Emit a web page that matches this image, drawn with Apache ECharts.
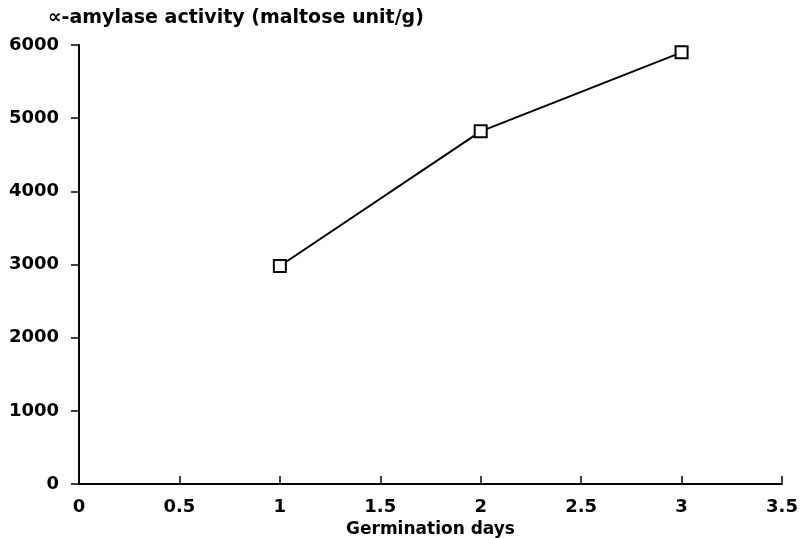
<!DOCTYPE html>
<html>
<head>
<meta charset="utf-8">
<title>amylase</title>
<script src="https://cdn.jsdelivr.net/npm/echarts@6/dist/echarts.min.js"></script>
</head>
<body style="margin:0">
<div id="container" style="width:803px;height:538px"></div>
<script>
var days = [1, 2, 3];
var activity = [2980, 4820, 5900];

var font = 'DejaVu Sans';
var chart = echarts.init(document.getElementById('container'));
var points = days.map(function (d, i) { return [d, activity[i]]; });

chart.setOption({
  backgroundColor: '#fff',
  animation: false,
  title: {
    text: '\u221d-amylase activity (maltose unit/g)',
    left: 43, top: 4,
    textStyle: { fontFamily: font, fontWeight: 'bold', fontSize: 19, color: '#000' }
  },
  grid: { left: 79, right: 21, top: 45, bottom: 54, outerBoundsMode: 'none', containLabel: false },
  xAxis: {
    type: 'value', min: 0, max: 3.5, interval: 0.5,
    name: 'Germination days', nameLocation: 'middle', nameGap: 35,
    nameTextStyle: { fontFamily: font, fontWeight: 'bold', fontSize: 17, color: '#000' },
    axisLine: { lineStyle: { color: '#000', width: 2 } },
    axisTick: { inside: true, length: 8, lineStyle: { color: '#000', width: 1.5 } },
    axisLabel: { margin: 14, fontFamily: font, fontWeight: 'bold', fontSize: 18, color: '#000' },
    splitLine: { show: false }
  },
  yAxis: {
    type: 'value', min: 0, max: 6000, interval: 1000,
    axisLine: { show: true, lineStyle: { color: '#000', width: 2 } },
    axisTick: { show: true, length: 8, lineStyle: { color: '#000', width: 1.5 } },
    axisLabel: {
      margin: 20, fontFamily: font, fontWeight: 'bold', fontSize: 18, color: '#000',
      formatter: function (v) { return String(v); }
    },
    splitLine: { show: false }
  },
  series: [{
    type: 'line',
    data: points,
    symbol: 'rect',
    symbolSize: 12,
    lineStyle: { color: '#000', width: 2 },
    itemStyle: { color: '#fff', borderColor: '#000', borderWidth: 2 }
  }]
});
</script>
</body>
</html>
